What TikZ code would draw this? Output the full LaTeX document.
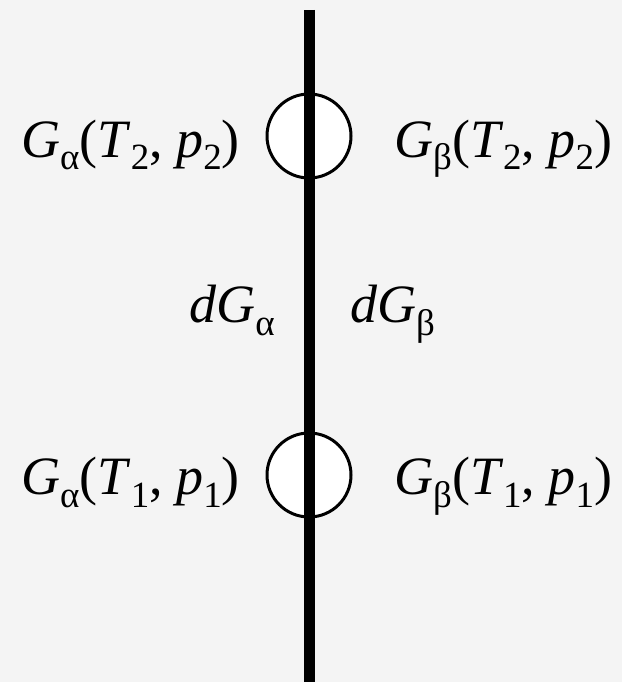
\documentclass[tikz,border=0pt]{standalone}
\usepackage{fontspec}
\setmainfont{Liberation Serif}
\usetikzlibrary{positioning}
\definecolor{panelgray}{RGB}{244,244,244}
\newcommand{\phsub}[1]{\raisebox{-13pt}{\fontsize{37}{37}\selectfont #1}}
\newcommand{\gibbs}[3]{\textit{G}\phsub{#1}(\textit{T}\phsub{#2}, \textit{p}\phsub{#3})}
\begin{document}
\begin{tikzpicture}[x=1pt,y=-1pt,font=\fontsize{54}{62}\selectfont]
\tikzset{junction/.style={circle,draw,fill=white,line width=3pt,minimum size=84pt,inner sep=0pt}}
\fill[panelgray] (0,0) rectangle (622,682);
\useasboundingbox (0,0) rectangle (622,682);
% the two states on the boundary
\node[junction] (upper) at (309,136) {};
\node[junction] (lower) at (309,475) {};
\coordinate (top) at (309,10);
\coordinate (bottom) at (309,682);
\draw[line width=11pt] (top) -- (bottom);
% labels
\node[anchor=base east,inner sep=0pt] (ga2) at (240,157) {\gibbs{α}{2}{2}};
\node[anchor=base west,inner sep=0pt] (gb2) at (394,157) {\gibbs{β}{2}{2}};
\node[anchor=base east,inner sep=0pt] (dga) at (275,322) {\textit{dG}\phsub{α}};
\node[anchor=base west,inner sep=0pt] (dgb) at (350,322) {\textit{dG}\phsub{β}};
\node[anchor=base east,inner sep=0pt] (ga1) at (240,494) {\gibbs{α}{1}{1}};
\node[anchor=base west,inner sep=0pt] (gb1) at (394,494) {\gibbs{β}{1}{1}};
\end{tikzpicture}
\end{document}
